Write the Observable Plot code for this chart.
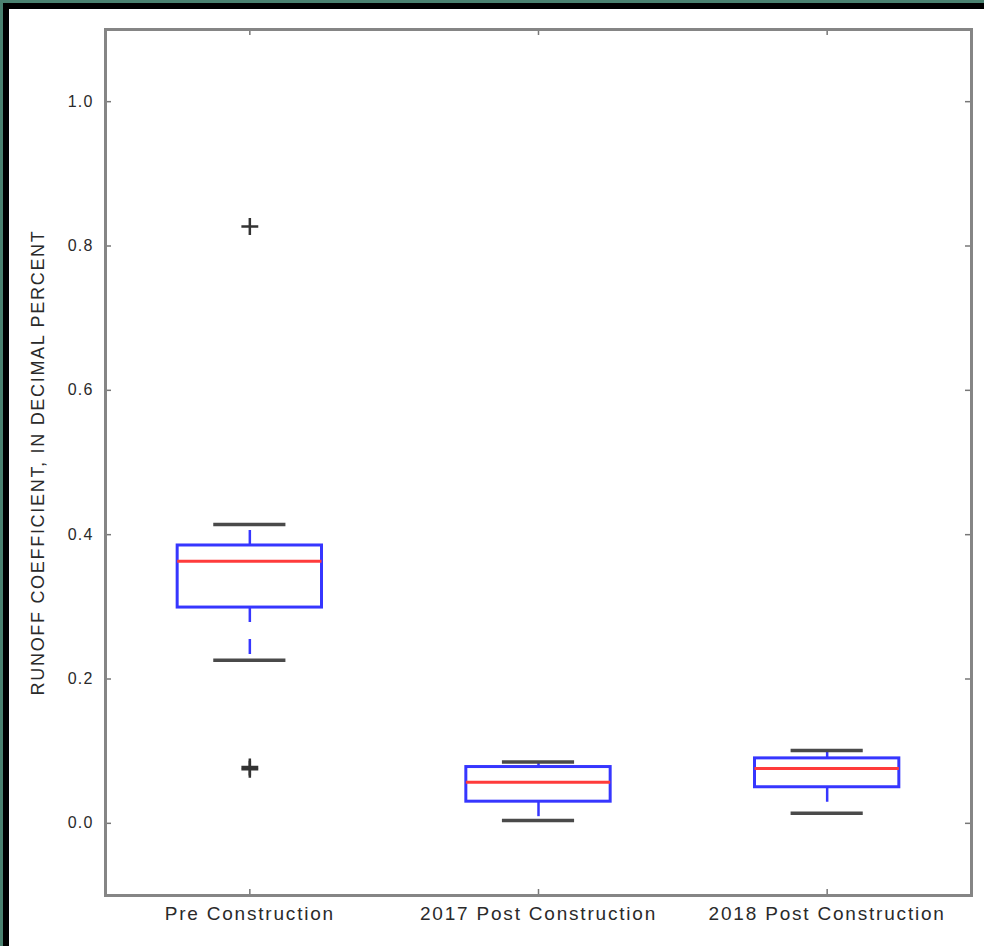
<!DOCTYPE html>
<html>
<head>
<meta charset="utf-8">
<script src="https://cdn.jsdelivr.net/npm/d3@7"></script>
<script src="https://cdn.jsdelivr.net/npm/@observablehq/plot@0.6"></script>
<style>
  html, body { margin: 0; padding: 0; background: #ffffff; }
  #wrap { position: relative; width: 984px; height: 946px; background: #ffffff; overflow: hidden; }
  #chart { position: absolute; left: 0; top: 0; }
  .edge { position: absolute; z-index: 2; }
  #chart svg text { fill: #2a2a2a; }
  #chart [aria-label="x-axis tick label"] text { letter-spacing: 1.8px; }
  #chart [aria-label="y-axis tick label"] text { letter-spacing: 1.2px; }
  #chart [aria-label="y-axis label"] text { letter-spacing: 1.7px; }
</style>
</head>
<body>
<div id="wrap">
  <div class="edge" style="left:0;top:0;width:3px;height:946px;background:#4b8270"></div>
  <div class="edge" style="left:3px;top:3px;width:6px;height:943px;background:#000"></div>
  <div class="edge" style="left:0;top:0;width:984px;height:3px;background:#4b8270"></div>
  <div class="edge" style="left:3px;top:3px;width:981px;height:6px;background:#000"></div>
  <div id="chart"></div>
</div>
<script>
// ---- data ----
const categories = ["Pre Construction", "2017 Post Construction", "2018 Post Construction"];
const whiskerLow  = [0.226, 0.004, 0.014];
const q1          = [0.299, 0.030, 0.050];
const medians     = [0.363, 0.057, 0.076];
const q3          = [0.385, 0.078, 0.090];
const whiskerHigh = [0.414, 0.085, 0.101];
const outlierCategory = ["Pre Construction", "Pre Construction", "Pre Construction"];
const outlierValues   = [0.827, 0.075, 0.078];
const yTicks = [0.0, 0.2, 0.4, 0.6, 0.8, 1.0];
const yDomain = [-0.1, 1.1];
const yLabel = "RUNOFF COEFFICIENT, IN DECIMAL PERCENT";

// ---- build tables ----
const pos = c => categories.indexOf(c) + 1;
const boxes = categories.map((c, i) => ({
  cat: c, p: i + 1,
  lo: whiskerLow[i], q1: q1[i], med: medians[i], q3: q3[i], hi: whiskerHigh[i]
}));
const outliers = outlierValues.map((v, i) => ({p: pos(outlierCategory[i]), v}));
const xTicks = categories.map((c, i) => i + 1);

const W = 984, H = 946;
const mL = 105, mR = 13, mT = 29, mB = 51;
const innerW = W - mL - mR, innerH = H - mT - mB;
const tickLen = 6;
const boxHalf = 0.25, capHalf = 0.125;
const blue = "#3636ff", red = "#ff3b3b", capColor = "#4a4a4a";

const chart = Plot.plot({
  width: W, height: H,
  marginLeft: mL, marginRight: mR, marginTop: mT, marginBottom: mB,
  style: {fontFamily: "'Liberation Sans', Arial, sans-serif", background: "transparent"},
  x: {type: "linear", domain: [0.5, categories.length + 0.5]},
  y: {domain: yDomain},
  marks: [
    // whiskers (dashed)
    Plot.ruleX(boxes, {x: "p", y1: "q3", y2: "hi", stroke: blue, strokeWidth: 2.5, strokeDasharray: "15,17"}),
    Plot.ruleX(boxes, {x: "p", y1: "q1", y2: "lo", stroke: blue, strokeWidth: 2.5, strokeDasharray: "15,17"}),
    // caps
    Plot.ruleY(boxes, {y: "hi", x1: d => d.p - capHalf, x2: d => d.p + capHalf, stroke: capColor, strokeWidth: 3.5}),
    Plot.ruleY(boxes, {y: "lo", x1: d => d.p - capHalf, x2: d => d.p + capHalf, stroke: capColor, strokeWidth: 3.5}),
    // boxes
    Plot.rect(boxes, {x1: d => d.p - boxHalf, x2: d => d.p + boxHalf, y1: "q1", y2: "q3", fill: "none", stroke: blue, strokeWidth: 3}),
    // medians
    Plot.ruleY(boxes, {y: "med", x1: d => d.p - boxHalf, x2: d => d.p + boxHalf, stroke: red, strokeWidth: 3}),
    // outliers
    Plot.dot(outliers, {x: "p", y: "v", symbol: "plus", r: 5.5, stroke: "#333", strokeWidth: 2.5, fill: "none"}),
    // inward ticks
    Plot.tickY(yTicks, {y: d => d, insetRight: innerW - tickLen, stroke: "#777", strokeWidth: 1.5}),
    Plot.tickY(yTicks, {y: d => d, insetLeft: innerW - tickLen, stroke: "#777", strokeWidth: 1.5}),
    Plot.tickX(xTicks, {x: d => d, insetTop: innerH - tickLen, stroke: "#777", strokeWidth: 1.5}),
    Plot.tickX(xTicks, {x: d => d, insetBottom: innerH - tickLen, stroke: "#777", strokeWidth: 1.5}),
    // axes
    Plot.axisY({ticks: yTicks, tickFormat: d3.format(".1f"), tickSize: 0, tickPadding: 12, fontSize: 16,
      label: yLabel, labelAnchor: "center", labelOffset: 74, labelArrow: "none"}),
    Plot.axisX({ticks: xTicks, tickFormat: d => categories[d - 1], tickSize: 0, tickPadding: 11, fontSize: 19, label: null}),
    Plot.frame({stroke: "#858585", strokeWidth: 3})
  ]
});
// label font size
d3.select(chart).selectAll('[aria-label="y-axis label"] text').attr("font-size", 18);
document.getElementById("chart").appendChild(chart);
</script>
</body>
</html>
